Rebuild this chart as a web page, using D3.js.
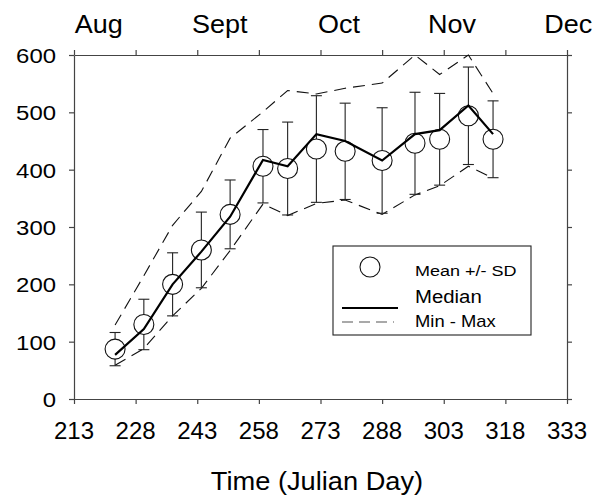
<!DOCTYPE html>
<html>
<head>
<meta charset="utf-8">
<script src="https://cdn.jsdelivr.net/npm/d3@7"></script>
<style>
  body { margin: 0; background: #fff; }
  svg text { font-family: "Liberation Sans", Arial, sans-serif; fill: #000; }
  .axis path, .axis line { stroke: #444; stroke-width: 1.2; }
</style>
</head>
<body>
<svg id="chart"></svg>
<script>
// sampling days (Julian day) and summary statistics
var days    = [223, 230, 237, 244, 251, 259, 265, 272, 279, 288, 296, 302, 309, 315];
var means   = [87, 130, 200, 260, 322, 406, 402, 436, 432, 416, 446, 453, 494, 453];
var sds     = [29, 44, 55, 66, 60, 64, 81, 93, 84, 92, 89, 80, 85, 67];
var medians = [77, 122, 200, 257, 318, 417, 406, 462, 450, 416, 462, 469, 512, 462];
var maxs    = [129, 215, 303, 362, 455, 501, 538, 532, 542, 551, 600, 566, 600, 533];
var mins    = [59, 88, 145, 193, 259, 340, 320, 341, 347, 322, 356, 372, 406, 385];

var xTicks = [213, 228, 243, 258, 273, 288, 303, 318, 333];
var yTicks = [0, 100, 200, 300, 400, 500, 600];
var months = ["Aug", "Sept", "Oct", "Nov", "Dec"];
var monthDays = [219, 248.5, 277.5, 305, 333.3];

var W = 606, H = 497;
var margin = {top: 55, right: 39, bottom: 98, left: 74},
    width = W - margin.left - margin.right,
    height = H - margin.top - margin.bottom;

var svg = d3.select("#chart").attr("width", W).attr("height", H);
var g = svg.append("g").attr("transform", "translate(" + margin.left + "," + margin.top + ")");

var x = d3.scaleLinear().domain([213, 333]).range([0, width]);
var y = d3.scaleLinear().domain([0, 600]).range([height, 0]);

// stretched text helper (the source fonts are a bit wider than Arial)
function label(sel, px, py, str, size, sx, anchor) {
  return sel.append("text")
    .attr("transform", "translate(" + px + "," + py + ") scale(" + sx + ",1)")
    .attr("text-anchor", anchor || "middle")
    .style("font-size", size + "px")
    .text(str);
}

// axes (full frame)
g.append("g").attr("class", "axis")
  .attr("transform", "translate(0," + height + ")")
  .call(d3.axisBottom(x).tickValues(xTicks).tickSize(5).tickSizeOuter(0).tickFormat(""));
g.append("g").attr("class", "axis")
  .call(d3.axisTop(x).tickValues(xTicks).tickSize(5).tickSizeOuter(0).tickFormat(""));
g.append("g").attr("class", "axis")
  .call(d3.axisLeft(y).tickValues(yTicks).tickSize(5).tickSizeOuter(0).tickFormat(""));
g.append("g").attr("class", "axis")
  .attr("transform", "translate(" + width + ",0)")
  .call(d3.axisRight(y).tickValues(yTicks).tickSize(5).tickSizeOuter(0).tickFormat(""));

// tick labels
xTicks.forEach(function (d) { label(g, x(d), height + 40, d, 24, 1.0); });
yTicks.forEach(function (d) { label(g, -18, y(d) + 8, d, 21, 1.14, "end"); });
months.forEach(function (m, i) { label(g, x(monthDays[i]), 33 - margin.top, m, 25, 1.08); });

label(svg, 317, 490, "Time (Julian Day)", 25, 1.09);

// min / max envelope
var line = d3.line().x(function (d) { return x(d[0]); }).y(function (d) { return y(d[1]); });
function pairs(vals) { return days.map(function (d, i) { return [d, vals[i]]; }); }

[maxs, mins].forEach(function (vals) {
  g.append("path")
    .attr("d", line(pairs(vals)))
    .attr("fill", "none")
    .attr("stroke", "#111")
    .attr("stroke-width", 1.1)
    .attr("stroke-dasharray", "12,7");
});

// error bars
var bars = g.append("g").attr("stroke", "#222").attr("stroke-width", 1.1);
days.forEach(function (d, i) {
  var hi = y(means[i] + sds[i]), lo = y(means[i] - sds[i]), cx = x(d);
  bars.append("line").attr("x1", cx).attr("x2", cx).attr("y1", hi).attr("y2", lo);
  bars.append("line").attr("x1", cx - 5.5).attr("x2", cx + 5.5).attr("y1", hi).attr("y2", hi);
  bars.append("line").attr("x1", cx - 5.5).attr("x2", cx + 5.5).attr("y1", lo).attr("y2", lo);
});

// means
g.selectAll("circle.mean").data(days).enter().append("circle")
  .attr("class", "mean")
  .attr("cx", function (d) { return x(d); })
  .attr("cy", function (d, i) { return y(means[i]); })
  .attr("r", 10)
  .attr("fill", "#fff")
  .attr("stroke", "#111")
  .attr("stroke-width", 1.1);

// median
g.append("path")
  .attr("d", line(pairs(medians)))
  .attr("fill", "none")
  .attr("stroke", "#000")
  .attr("stroke-width", 2.2);

// legend
var lg = svg.append("g");
lg.append("rect").attr("x", 333).attr("y", 246).attr("width", 198).attr("height", 89)
  .attr("fill", "#fff").attr("stroke", "#222").attr("stroke-width", 1.1);
lg.append("circle").attr("cx", 370).attr("cy", 267).attr("r", 10)
  .attr("fill", "#fff").attr("stroke", "#111").attr("stroke-width", 1.1);
lg.append("line").attr("x1", 342).attr("x2", 398).attr("y1", 308).attr("y2", 308)
  .attr("stroke", "#000").attr("stroke-width", 2.2);
lg.append("line").attr("x1", 342).attr("x2", 394).attr("y1", 322).attr("y2", 322)
  .attr("stroke", "#555").attr("stroke-width", 1.1).attr("stroke-dasharray", "11,6");
label(lg, 415, 276, "Mean +/- SD", 15, 1.2, "start");
label(lg, 415, 303, "Median", 18.5, 1.1, "start");
label(lg, 415, 327, "Min - Max", 16, 1.15, "start");
</script>
</body>
</html>
